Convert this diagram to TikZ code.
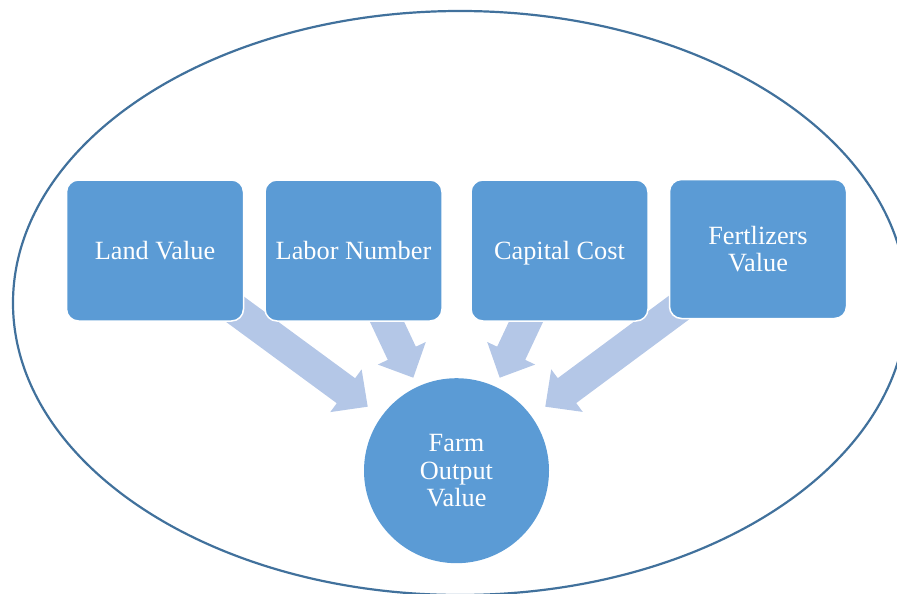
\documentclass[tikz,border=0pt]{standalone}
\usepackage{fontspec}
\setmainfont{Liberation Serif}
\usetikzlibrary{calc,backgrounds}
\definecolor{boxblue}{HTML}{5B9BD5}
\definecolor{arrowblue}{HTML}{B4C7E7}
\definecolor{ringblue}{HTML}{41719C}
\tikzset{
  factor/.style={rectangle, rounded corners=12pt, fill=boxblue, draw=white,
    line width=1.5pt, minimum width=177pt, minimum height=141pt, inner sep=0pt,
    text=white, font=\fontsize{26.3pt}{27.7pt}\selectfont, align=center},
  oneline/.style={text height=17.4pt, text depth=0pt},
  outcome/.style={circle, fill=boxblue, minimum size=185pt, inner sep=0pt,
    text=white, font=\fontsize{26.3pt}{27.7pt}\selectfont, align=center},
  arrowfill/.style={fill=arrowblue},
  ring/.style={draw=ringblue, line width=2.2pt}
}
\newcommand\farmarrow[2]{%
  \path ($(#2)!27pt!(#1)$) coordinate (hb);
  \fill[arrowfill] ($(#1)!15.5pt!90:(#2)$) -- ($(hb)!15.5pt!90:(#2)$)
    -- ($(hb)!26.5pt!90:(#2)$) -- (#2) -- ($(hb)!26.5pt!-90:(#2)$)
    -- ($(hb)!15.5pt!-90:(#2)$) -- ($(#1)!15.5pt!-90:(#2)$) -- cycle;
}
\begin{document}
\begin{tikzpicture}[x=1pt,y=-1pt]
\useasboundingbox (0,0) rectangle (897,594);
\clip (0,0) rectangle (897,594);
\draw[ring] (460,303) ellipse [x radius=447pt, y radius=292pt];
\node[factor,oneline] (land) at (155,250.5) {Land Value};
\node[factor,oneline] (labor) at (353.5,250.5) {Labor Number};
\node[factor,oneline] (capital) at (559.5,250.5) {Capital Cost};
\node[factor,minimum height=139pt] (fert) at (758,249) {Fertlizers\\Value};
\node[outcome] (farm) at (456.5,470.7) {Farm\\Output\\Value};
\coordinate (t1) at (367.7,406.7);
\coordinate (t2) at (413.3,377.7);
\coordinate (t3) at (499.7,377.7);
\coordinate (t4) at (545.3,406.7);
\begin{scope}[on background layer]
  \farmarrow{land.center}{t1}
  \farmarrow{labor.center}{t2}
  \farmarrow{capital.center}{t3}
  \farmarrow{fert.center}{t4}
\end{scope}
\end{tikzpicture}
\end{document}
